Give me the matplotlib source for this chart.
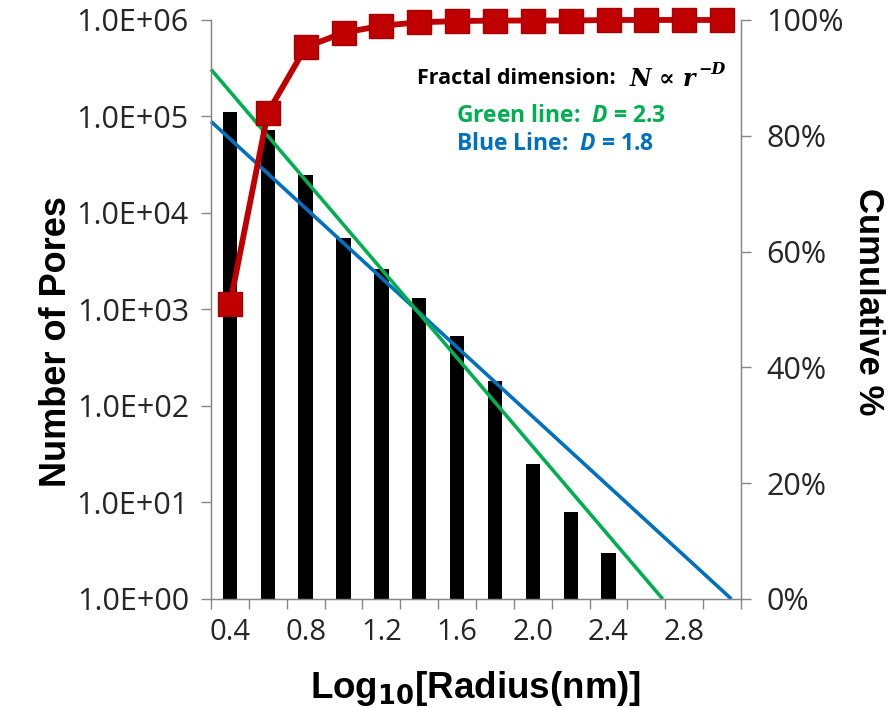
import matplotlib
matplotlib.use("Agg")
import matplotlib.pyplot as plt
import numpy as np
from matplotlib.ticker import FixedLocator, FuncFormatter, PercentFormatter, NullLocator

# ---- data ----
log_radius = [0.4, 0.6, 0.8, 1.0, 1.2, 1.4, 1.6, 1.8, 2.0, 2.2, 2.4, 2.6, 2.8, 3.0]
pore_counts = [112000, 73000, 25000, 5500, 2600, 1300, 530, 180, 25, 8, 3]
cumulative_pct = [50.9, 84.0, 95.3, 97.8, 99.0, 99.6, 99.8, 99.9, 99.9, 99.9, 100, 100, 100, 100]

# fractal fits: N ∝ r^-D, each passing through a reference point (log r, log N)
green_D = 2.3
green_anchor = (1.56, 2.59)
blue_D = 1.8
blue_anchor = (1.66, 2.50)

x_tick_labels = [0.4, 0.8, 1.2, 1.6, 2.0, 2.4, 2.8]

GREEN = "#00B050"
BLUE = "#0070C0"
RED = "#C00000"
AXIS_GRAY = "#868686"
LABEL_GRAY = "#262626"
TICK_FONT = "Open Sans"
TITLE_FONT = "Liberation Sans"

fig = plt.figure(figsize=(8.95, 7.08), dpi=100)
ax = fig.add_axes([0.2358, 0.154, 0.828 - 0.2358, 0.9718 - 0.154])

# bars
ax.bar(log_radius[:len(pore_counts)], pore_counts, width=0.076, color="black", zorder=2)
ax.set_yscale("log")
ax.set_ylim(1, 1e6)
x_lo, x_hi = 0.3, 3.1
ax.set_xlim(x_lo, x_hi)

# fractal lines, drawn from the left edge down to N = 1
def fractal_line(D, anchor):
    x0, y0 = anchor
    x_end = x0 + y0 / D
    xs = np.array([x_lo, x_end])
    ys = 10 ** (y0 - D * (xs - x0))
    return xs, ys

gx, gy = fractal_line(green_D, green_anchor)
bx, by = fractal_line(blue_D, blue_anchor)
ax.plot(bx, by, color=BLUE, lw=2.6, zorder=3, solid_capstyle="butt", clip_on=False)
ax.plot(gx, gy, color=GREEN, lw=2.6, zorder=3, solid_capstyle="butt", clip_on=False)

# axes styling
for side in ["left", "bottom", "right"]:
    ax.spines[side].set_color(AXIS_GRAY)
    ax.spines[side].set_linewidth(1.0)
ax.spines["top"].set_visible(False)

ax.yaxis.set_major_locator(FixedLocator([10.0 ** k for k in range(7)]))
ax.yaxis.set_minor_locator(NullLocator())
ax.yaxis.set_major_formatter(FuncFormatter(lambda v, p: f"{v:.1E}"))
ax.tick_params(axis="y", which="major", direction="out", length=7, width=1,
               color=AXIS_GRAY, labelsize=22, labelcolor=LABEL_GRAY, pad=9)

boundaries = np.arange(x_lo, x_hi + 0.01, 0.2)
ax.xaxis.set_major_locator(FixedLocator(boundaries))
ax.xaxis.set_major_formatter(FuncFormatter(lambda v, p: ""))
ax.xaxis.set_minor_locator(FixedLocator(x_tick_labels))
ax.xaxis.set_minor_formatter(FuncFormatter(lambda v, p: f"{v:.1f}"))
ax.tick_params(axis="x", which="major", direction="out", length=7, width=1, color=AXIS_GRAY)
ax.tick_params(axis="x", which="minor", length=0, labelsize=21, labelcolor=LABEL_GRAY, pad=14)

for lbl in ax.get_xticklabels(minor=True) + ax.get_yticklabels():
    lbl.set_fontfamily(TICK_FONT)

ax.set_xlabel(r"Log$_{\mathbf{10}}$[Radius(nm)]", fontsize=26.5, fontweight="bold",
              family=TITLE_FONT)
ax.xaxis.set_label_coords(0.5, -0.121)
ax.set_ylabel("Number of Pores", fontsize=26, fontweight="bold", family=TITLE_FONT)
ax.yaxis.set_label_coords(-0.258, 0.445)

# cumulative share on the secondary axis
ax2 = ax.twinx()
ax2.plot(log_radius, np.array(cumulative_pct) / 100.0, color=RED, lw=4.2,
         marker="s", markersize=17, markerfacecolor=RED, markeredgecolor="#A50000",
         markeredgewidth=1.0, zorder=5, clip_on=False)
ax2.set_ylim(0, 1)
ax2.set_xlim(x_lo, x_hi)
ax2.yaxis.set_major_locator(FixedLocator([0, 0.2, 0.4, 0.6, 0.8, 1.0]))
ax2.yaxis.set_major_formatter(PercentFormatter(1.0, decimals=0))
ax2.tick_params(axis="y", direction="out", length=7, width=1, color=AXIS_GRAY,
                labelsize=22, labelcolor=LABEL_GRAY, pad=11)
for lbl in ax2.get_yticklabels():
    lbl.set_fontfamily(TICK_FONT)
for side in ["left", "bottom", "right"]:
    ax2.spines[side].set_color(AXIS_GRAY)
ax2.spines["top"].set_visible(False)
ax2.set_ylabel("Cumulative %", fontsize=25, fontweight="bold", family=TITLE_FONT,
               rotation=270, va="center")
ax2.yaxis.set_label_coords(1.24, 0.513)

# annotation text
plt.rcParams["mathtext.fontset"] = "custom"
plt.rcParams["mathtext.it"] = "Open Sans:italic:bold"
plt.rcParams["mathtext.rm"] = "Open Sans:bold"
plt.rcParams["mathtext.bf"] = "Liberation Sans:bold"

fig.text(0.466, 0.889, "Fractal dimension:", fontsize=15.5, fontweight="bold",
         family="Open Sans", color="black", va="center")
law = fig.text(0.703, 0.889, "N \u221d r", fontsize=17, fontweight="bold", style="italic",
               family="DejaVu Serif", color="black", va="center")
ax.annotate("\u2212D", xy=(1.0, 1.0), xycoords=law, xytext=(2, 4),
            textcoords="offset points", fontsize=11.5, fontweight="bold",
            style="italic", family="DejaVu Serif", color="black",
            ha="left", va="top", annotation_clip=False)
fig.text(0.509, 0.836, r"Green line:  $\mathit{D}$ = 2.3", fontsize=16.5, fontweight="bold",
         family="Open Sans", color=GREEN, va="center")
fig.text(0.509, 0.797, r"Blue Line:  $\mathit{D}$ = 1.8", fontsize=16.5, fontweight="bold",
         family="Open Sans", color=BLUE, va="center")

fig.savefig("out.png", dpi=100)
